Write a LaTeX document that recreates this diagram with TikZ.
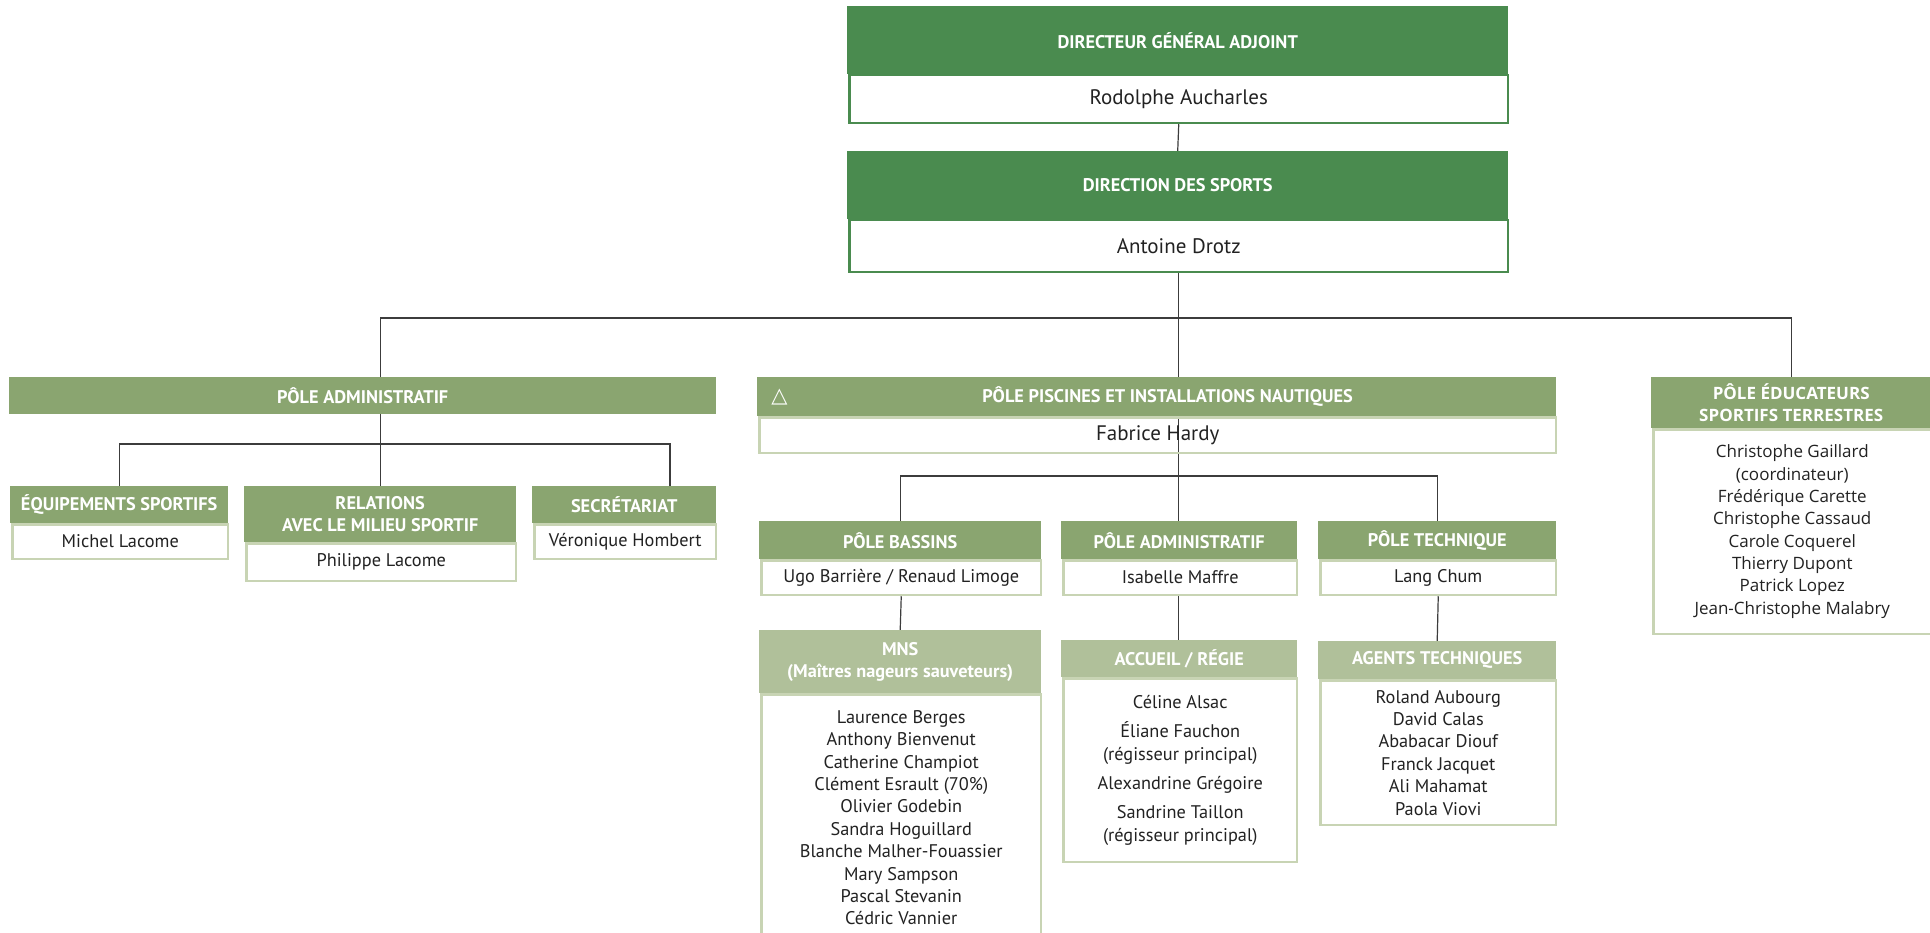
\documentclass[tikz,border=0pt]{standalone}
\usepackage{fontspec}
\setmainfont{PT Sans}
\newfontfamily\symfont{DejaVu Sans}
\newfontfamily\pefont{Open Sans}
\usetikzlibrary{backgrounds}
\pgfdeclarelayer{back}
\pgfsetlayers{back,background,main}
\definecolor{gdark}{RGB}{74,139,79}
\definecolor{gmid}{RGB}{138,165,112}
\definecolor{glight}{RGB}{176,192,154}
\definecolor{gborder}{RGB}{200,212,180}
\definecolor{txtc}{RGB}{34,34,34}
\definecolor{connc}{RGB}{60,60,60}
\begin{document}
\begin{tikzpicture}[x=1pt,y=-1pt,
 hdbase/.style={anchor=north west, inner sep=0pt, align=center, text=white, font=\bfseries\fontsize{18.3}{22}\selectfont},
 hdark/.style={hdbase, fill=gdark},
 hmid/.style={hdbase, fill=gmid},
 hlight/.style={hdbase, fill=glight},
 bw/.style={minimum width=#1-2.5, xshift=1.25},
 bh/.style={minimum height=#1-1.25},
 bdark/.style={anchor=north west, inner sep=0pt, align=center, draw=gdark, line width=2.5pt, text=txtc, font=\fontsize{21}{24}\selectfont},
 blight/.style={anchor=north west, inner sep=0pt, align=center, draw=gborder, line width=2.5pt, text=txtc, font=\fontsize{18.3}{22.4}\selectfont},
 bbig/.style={blight, font=\fontsize{21}{24}\selectfont},
 conn/.style={draw=connc, line width=1.2pt}]
\clip (0,0) rectangle (1930,933);
\begin{pgfonlayer}{back}
\fill[white] (0,0) rectangle (1930,933);
\end{pgfonlayer}
% top
\node[hdark, minimum width=661, minimum height=68] (dgah) at (847,6) {DIRECTEUR GÉNÉRAL ADJOINT};
\node[bdark, bw=661, bh=49] (dgab) at (847,74) {Rodolphe Aucharles};
\node[hdark, minimum width=661, minimum height=68] (dsh) at (847,151) {DIRECTION DES SPORTS};
\node[bdark, bw=661, bh=53] (dsb) at (847,219) {Antoine Drotz};
% left
\node[hmid, minimum width=707, minimum height=37] (pah) at (9,377) {PÔLE ADMINISTRATIF};
\node[hmid, minimum width=218, minimum height=37] (eqh) at (10,486) {ÉQUIPEMENTS SPORTIFS};
\node[blight, bw=218, bh=36] (eqb) at (10,523) {Michel Lacome};
\node[hmid, minimum width=272, minimum height=56] (relh) at (244,486) {RELATIONS\\AVEC LE MILIEU SPORTIF};
\node[blight, bw=272, bh=39] (relb) at (244,542) {Philippe Lacome};
\node[hmid, minimum width=184, minimum height=37] (sech) at (532,486) {SECRÉTARIAT};
\node[blight, bw=184, bh=36] (secb) at (532,523) {Véronique Hombert};
% middle
\node[hmid, minimum width=799, minimum height=39] (ppinh) at (757,377) {\hspace{22pt}PÔLE PISCINES ET INSTALLATIONS NAUTIQUES};
\node[bbig, bw=799, bh=37] (ppinb) at (757,416) {Fabrice Hardy};
\node[text=white, font=\symfont\fontsize{21}{23}\selectfont, inner sep=0pt] (tri) at (779.5,397.5) {△};
\node[hmid, minimum width=282, minimum height=38] (pbh) at (759,521) {PÔLE BASSINS};
\node[blight, bw=282, bh=36] (pbb) at (759,559) {Ugo Barrière / Renaud Limoge};
\node[hmid, minimum width=236, minimum height=38] (pa2h) at (1061,521) {PÔLE ADMINISTRATIF};
\node[blight, bw=236, bh=36] (pa2b) at (1061,559) {Isabelle Maffre};
\node[hmid, minimum width=238, minimum height=38] (pth) at (1318,521) {PÔLE TECHNIQUE};
\node[blight, bw=238, bh=36] (ptb) at (1318,559) {Lang Chum};
\node[hlight, minimum width=282, minimum height=63] (mnsh) at (759,630) {MNS\\(Maîtres nageurs sauveteurs)};
\node[blight, bw=282, bh=248] (mnsb) at (759,693) {Laurence Berges\\Anthony Bienvenut\\Catherine Champiot\\Clément Esrault (70\%)\\Olivier Godebin\\Sandra Hoguillard\\Blanche Malher-Fouassier\\Mary Sampson\\Pascal Stevanin\\Cédric Vannier};
\node[hlight, minimum width=236, minimum height=37] (acch) at (1061,640) {ACCUEIL / RÉGIE};
\node[blight, bw=236, bh=185] (accb) at (1061,677) {Céline Alsac\\[7pt]Éliane Fauchon\\(régisseur principal)\\[7pt]Alexandrine Grégoire\\[7pt]Sandrine Taillon\\(régisseur principal)};
\node[hlight, minimum width=238, minimum height=38] (agth) at (1318,641) {AGENTS TECHNIQUES};
\node[blight, bw=238, bh=146] (agtb) at (1318,679) {Roland Aubourg\\David Calas\\Ababacar Diouf\\Franck Jacquet\\Ali Mahamat\\Paola Viovi};
% right
\node[hmid, minimum width=280, minimum height=51, font=\pefont\bfseries\fontsize{17}{22}\selectfont] (peh) at (1651,377) {PÔLE ÉDUCATEURS\\SPORTIFS TERRESTRES};
\node[blight, bw=280, bh=206, font=\pefont\fontsize{17}{22.3}\selectfont] (peb) at (1651,428) {Christophe Gaillard\\(coordinateur)\\Frédérique Carette\\Christophe Cassaud\\Carole Coquerel\\Thierry Dupont\\Patrick Lopez\\Jean-Christophe Malabry};
% junctions
\coordinate (j1) at (1177.5,318);
\coordinate (j2r) at (670,444);
\coordinate (j3) at (1177.5,476);
\begin{scope}[on background layer]
\draw[conn] (dgab.south) -- (dsh.north);
\draw[conn] (dsb.south) -- (dsb.south |- pa2h.north);
\draw[conn] (relh.north) |- (j1) -| (peh.north);
\draw[conn] (eqh.north) |- (j2r) -- (j2r |- sech.north);
\draw[conn] (pbh.north) |- (j3) -| (pth.north);
\draw[conn] (pbb.south) -- (mnsh.north);
\draw[conn] (dsb.south |- pa2b.south) -- (dsb.south |- acch.north);
\draw[conn] (ptb.south) -- (agth.north);
\end{scope}
\end{tikzpicture}
\end{document}
